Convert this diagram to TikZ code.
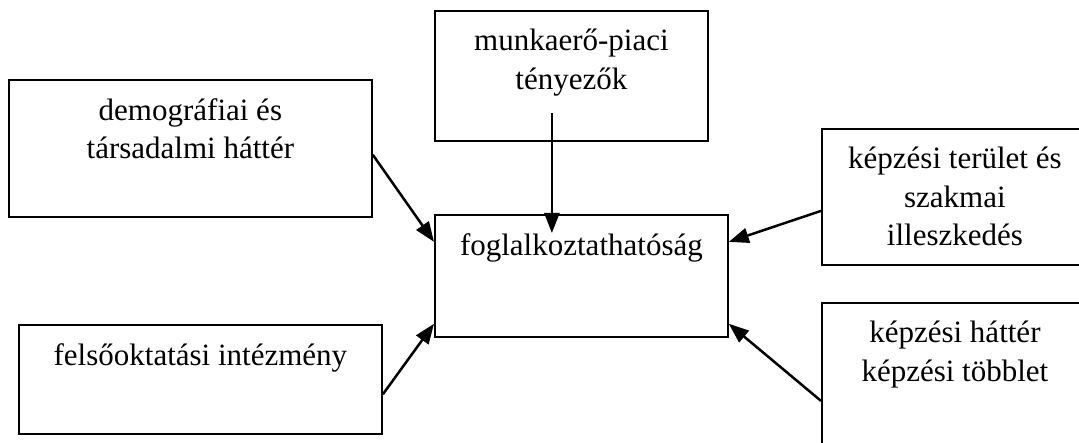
\documentclass[tikz,border=0pt]{standalone}
\usepackage{fontspec}
\setmainfont{Liberation Serif}
\usepackage{tikz}
\usetikzlibrary{arrows.meta, calc, positioning}
\usepackage{xcolor}

\tikzset{
  frame/.style={draw, line width=1.8pt, inner sep=0pt, anchor=north west},
  caption/.style={font=\fontsize{31}{38.5}\selectfont, align=center, anchor=north, inner sep=0pt},
  link/.style={line width=2.5pt, -{Triangle[length=20pt, width=15pt]}}
}

\begin{document}
\begin{tikzpicture}[x=1pt, y=-1pt]
  \useasboundingbox (0,0) rectangle (1079,443);
  \clip (0,0) rectangle (1079,443);

  % boxes (the two on the right run past the page edge)
  \node[frame, minimum width=363pt, minimum height=137pt] (demog) at (8,79) {};
  \node[frame, minimum width=273pt, minimum height=130pt] (munka) at (434,10) {};
  \node[frame, minimum width=293pt, minimum height=122pt] (foglal) at (434,214) {};
  \node[frame, minimum width=266pt, minimum height=136pt] (terulet) at (821,128) {};
  \node[frame, minimum width=363pt, minimum height=109pt] (felso) at (18,324) {};
  \node[frame, minimum width=266pt, minimum height=170pt] (hatter) at (821,302) {};

  % captions, set near the top of each box
  \node[caption] (demogtext) at ($(demog.north)+(0,19)$) {demográfiai és\\társadalmi háttér};
  \node[caption] (munkatext) at ($(munka.north)+(0,19)$) {munkaerő-piaci\\tényezők};
  \node[caption] (foglaltext) at ($(foglal.north)+(0,19)$) {foglalkoztathatóság};
  \node[caption] (terulettext) at ($(terulet.north)+(0,19)$) {képzési terület és\\szakmai\\illeszkedés};
  \node[caption] (felsotext) at ($(felso.north)+(0,19)$) {felsőoktatási intézmény};
  \node[caption] (hattertext) at ($(hatter.north)+(0,19)$) {képzési háttér\\képzési többlet};

  % arrows into the centre box
  \draw[link] (demog.-2) -- (foglal.167);
  \draw[link] ($(munka.south)+(-19.5,-29)$) -- ($(foglal.north)+(-29.5,19)$);
  \draw[link] ($(terulet.west)+(0,14)$) -- (foglal.13);
  \draw[link] ($(felso.east)+(0,15)$) -- (foglal.198);
  \draw[link] ($(hatter.west)+(0,13)$) -- (foglal.-18);
\end{tikzpicture}
\end{document}
